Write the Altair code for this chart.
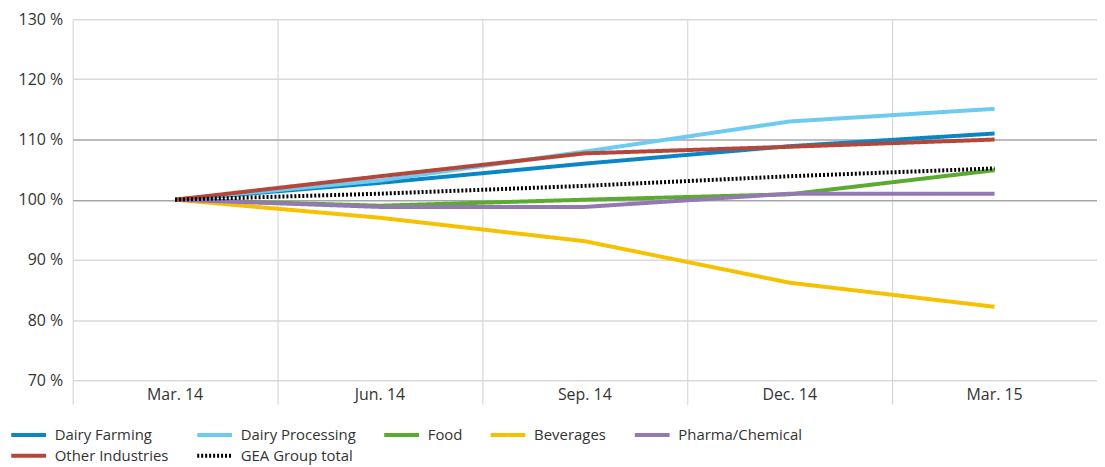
import altair as alt
import pandas as pd

quarters = ["Mar. 14", "Jun. 14", "Sep. 14", "Dec. 14", "Mar. 15"]
series_names = ["Dairy Farming", "Dairy Processing", "Food", "Beverages",
                "Pharma/Chemical", "Other Industries", "GEA Group total"]
dairy_farming = [100, 102.8, 106.0, 108.9, 111.0]
dairy_processing = [100, 103.2, 108.0, 113.0, 115.1]
food = [100, 99.0, 100.0, 100.9, 104.9]
beverages = [100, 97.0, 93.1, 86.2, 82.2]
pharma = [100, 98.8, 98.8, 101.0, 101.0]
other = [100, 103.9, 107.7, 108.8, 110.0]
gea_total = [100, 101.0, 102.3, 103.9, 105.2]
colors = ["#0a86c8", "#6dcbf0", "#5aab2f", "#f6c100", "#9478b4", "#b5473a", "#000000"]
dashes = [[1, 0]] * 6 + [[2, 2]]

values = [dairy_farming, dairy_processing, food, beverages, pharma, other, gea_total]
rows = []
for i, (name, vals) in enumerate(zip(series_names, values)):
    for q, v in zip(quarters, vals):
        rows.append({"series": name, "quarter": q, "value": v, "order": i})
df = pd.DataFrame(rows)

FONT = "Open Sans"
FS = 16

legend = alt.Legend(
    title=None, orient="none", legendX=-64, legendY=407, columns=5,
    direction="horizontal",
    columnPadding=20, rowPadding=2,
    symbolType="M-1,0H3", symbolSize=306, symbolStrokeWidth=4,
    labelFontSize=15, labelColor="#333333", labelFont=FONT, labelOffset=24,
)

chart = alt.Chart(df).mark_line(strokeWidth=4, strokeCap="butt").encode(
    x=alt.X("quarter:N", sort=quarters, title=None,
            scale=alt.Scale(type="band", paddingInner=0, paddingOuter=0),
            axis=alt.Axis(grid=True, bandPosition=0, gridColor="#d0d0d0",
                          ticks=True, tickSize=24, tickColor="#d0d0d0",
                          domain=False, labelPadding=-18, labelAngle=0,
                          labelFontSize=FS, labelColor="#333333", labelFont=FONT)),
    y=alt.Y("value:Q", title=None,
            scale=alt.Scale(domain=[70, 130], nice=False, zero=False),
            axis=alt.Axis(values=[70, 80, 90, 100, 110, 120, 130],
                          labelExpr="datum.value + ' %'",
                          grid=True, domain=False, ticks=False, labelPadding=10,
                          gridColor={"condition": {"test": "datum.value == 100 || datum.value == 110",
                                                   "value": "#a6a6a6"}, "value": "#d9d9d9"},
                          gridWidth=1.5,
                          labelFontSize=FS, labelColor="#333333", labelFont=FONT)),
    color=alt.Color("series:N", sort=series_names,
                    scale=alt.Scale(domain=series_names, range=colors), legend=legend),
    strokeDash=alt.StrokeDash("series:N", sort=series_names,
                              scale=alt.Scale(domain=series_names, range=dashes), legend=legend),
    order=alt.Order("order:Q"),
    detail="series:N",
).properties(
    width=1030, height=363,
    padding={"left": 1, "top": 2, "right": 0, "bottom": 0},
).configure_view(stroke=None)

chart.save("out.html", embed_options={"renderer": "svg", "actions": False})
